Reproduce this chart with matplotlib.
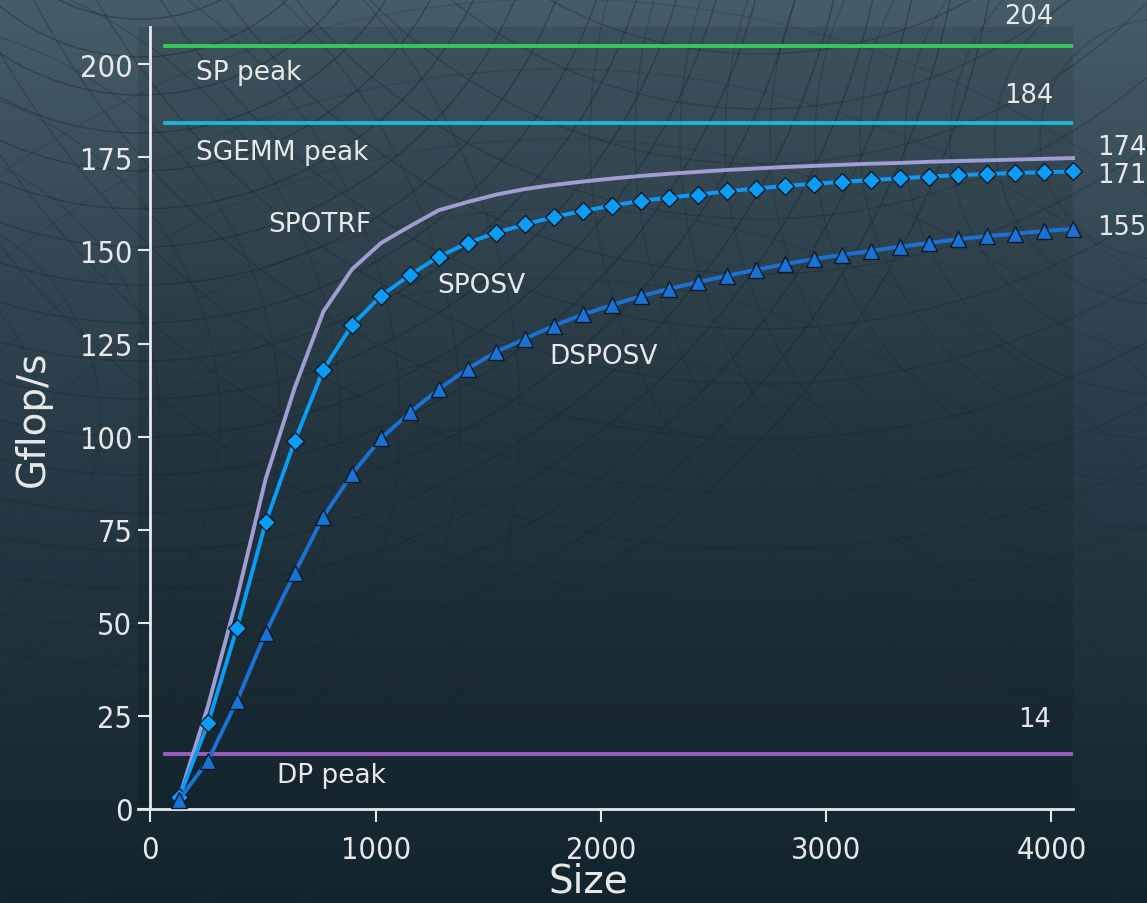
import os
import matplotlib
matplotlib.use('Agg')
import matplotlib.pyplot as plt
from matplotlib import font_manager as fm
from matplotlib.patches import Circle
import numpy as np

# ---------------- data ----------------
sizes = [128, 256, 384, 512, 640, 768, 896, 1024, 1152, 1280, 1408, 1536,
         1664, 1792, 1920, 2048, 2176, 2304, 2432, 2560, 2688, 2816, 2944,
         3072, 3200, 3328, 3456, 3584, 3712, 3840, 3968, 4096]

spotrf = [3.0, 27.7, 56.5, 88.7, 113.0, 133.6, 145.0, 152.0, 156.5, 160.8,
          163.0, 165.0, 166.5, 167.6, 168.5, 169.3, 170.0, 170.6, 171.1,
          171.6, 172.0, 172.4, 172.7, 173.0, 173.3, 173.5, 173.8, 174.0,
          174.2, 174.4, 174.6, 174.8]

sposv = [3.2, 23.0, 48.5, 77.0, 98.7, 118.0, 130.0, 137.8, 143.4, 148.3,
         152.0, 154.8, 157.0, 159.0, 160.6, 162.0, 163.3, 164.2, 165.0,
         165.9, 166.6, 167.3, 167.9, 168.4, 168.9, 169.4, 169.8, 170.2,
         170.5, 170.8, 171.0, 171.2]

dsposv = [2.5, 13.0, 29.0, 47.3, 63.3, 78.5, 90.0, 99.5, 106.5, 112.7,
          118.2, 122.8, 126.3, 129.8, 132.8, 135.3, 137.7, 139.7, 141.5,
          143.2, 144.8, 146.3, 147.7, 148.8, 149.9, 151.0, 152.0, 153.0,
          153.8, 154.5, 155.2, 155.8]

sp_peak = 204.8
sgemm_peak = 184.1
dp_peak = 14.8
peak_x = [64, 4096]

xticks = [0, 1000, 2000, 3000, 4000]
yticks = [0, 25, 50, 75, 100, 125, 150, 175, 200]

# ---------------- fonts ----------------
cond_path = None
for f in fm.fontManager.ttflist:
    base = os.path.basename(f.fname)
    if base == 'DejaVuSansCondensed.ttf':
        cond_path = f.fname
        break
if cond_path is None:
    for f in fm.fontManager.ttflist:
        if f.name.startswith('DejaVu Sans') and 'ondensed' in (f.fname + str(f.stretch)) \
                and f.weight in ('normal', 400) and f.style == 'normal':
            cond_path = f.fname
            break
if cond_path:
    tick_fp = fm.FontProperties(fname=cond_path, size=22)
else:
    tick_fp = fm.FontProperties(family='DejaVu Sans', size=20)

plt.rcParams['font.family'] = ['DejaVu Sans']
txt_col = '#e8e8e8'

W, H = 1147, 904
fig = plt.figure(figsize=(W / 100, H / 100), dpi=100)

# ---------------- background ----------------
bg = fig.add_axes([0, 0, 1, 1])
top = np.array([0x46, 0x5c, 0x68]) / 255
mid = np.array([0x2a, 0x3d, 0x48]) / 255
bot = np.array([0x13, 0x24, 0x2e]) / 255
t = np.linspace(0, 1, 256)[:, None]
grad = np.where(t < 0.45, top + (mid - top) * (t / 0.45),
                mid + (bot - mid) * ((t - 0.45) / 0.55))
grad = np.repeat(grad[:, None, :], 2, axis=1)
bg.imshow(grad, extent=[0, W, H, 0], aspect='auto')
bg.set_xlim(0, W)
bg.set_ylim(H, 0)
arc_col = '#1a2a34'
families = [((140, -160), range(180, 900, 38), 0.45),
            ((760, -380), range(380, 1000, 55), 0.35),
            ((1160, 140), range(120, 600, 45), 0.28),
            ((-120, 420), range(160, 700, 60), 0.28),
            ((560, 980), range(560, 1000, 70), 0.2)]
for (cx, cy), radii, a in families:
    for r in radii:
        bg.add_patch(Circle((cx, cy), r, fill=False, ec=arc_col, lw=1.0, alpha=a))
bg.axis('off')

# ---------------- main axes ----------------
ax = fig.add_axes([138 / W, 1 - 810 / H, (1073 - 138) / W, (810 - 28) / H])
ax.set_facecolor((0, 0, 0, 0.09))

ax.plot(peak_x, [sp_peak, sp_peak], color='#34c95a', lw=2.8, zorder=2)
ax.plot(peak_x, [sgemm_peak, sgemm_peak], color='#1fb3d6', lw=2.8, zorder=2)
ax.plot(peak_x, [dp_peak, dp_peak], color='#9a5cc0', lw=2.8, zorder=2)

ax.plot(sizes, spotrf, color='#a09cd4', lw=2.8, zorder=3, clip_on=False)
ax.plot(sizes, sposv, color='#0a9cf6', lw=2.8, marker='D', ms=9,
        mfc='#0a9cf6', mec='#0b1a26', mew=1.0, zorder=4, clip_on=False)
ax.plot(sizes, dsposv, color='#1a72d4', lw=2.8, marker='^', ms=12,
        mfc='#1a72d4', mec='#0b1a26', mew=1.0, zorder=4, clip_on=False)

fs = 19
ax.text(204, 198, 'SP peak', color=txt_col, fontsize=fs, va='center', ha='left')
ax.text(204, 176.4, 'SGEMM peak', color=txt_col, fontsize=fs, va='center', ha='left')
ax.text(524, 157.2, 'SPOTRF', color=txt_col, fontsize=fs, va='center', ha='left')
ax.text(1274, 140.7, 'SPOSV', color=txt_col, fontsize=fs, va='center', ha='left')
ax.text(1771, 121.6, 'DSPOSV', color=txt_col, fontsize=fs, va='center', ha='left')
ax.text(564, 9.0, 'DP peak', color=txt_col, fontsize=fs, va='center', ha='left')

fs2 = 18.5
ax.text(3790, 213.0, f'{int(sp_peak)}', color=txt_col, fontsize=fs2,
        va='center', ha='left', clip_on=False)
ax.text(3790, 191.8, f'{int(sgemm_peak)}', color=txt_col, fontsize=fs2,
        va='center', ha='left', clip_on=False)
ax.text(3853, 24.2, f'{int(dp_peak)}', color=txt_col, fontsize=fs2,
        va='center', ha='left', clip_on=False)
ax.text(4203, 177.8, f'{int(spotrf[-1])}', color=txt_col, fontsize=fs2,
        va='center', ha='left', clip_on=False)
ax.text(4203, 170.2, f'{int(sposv[-1])}', color=txt_col, fontsize=fs2,
        va='center', ha='left', clip_on=False)
ax.text(4203, 156.3, f'{int(dsposv[-1])}', color=txt_col, fontsize=fs2,
        va='center', ha='left', clip_on=False)

for s in ['top', 'right']:
    ax.spines[s].set_visible(False)
ax.spines['left'].set_position(('data', 0))
for s in ['left', 'bottom']:
    ax.spines[s].set_color(txt_col)
    ax.spines[s].set_linewidth(2.0)

ax.set_xlim(-55, 4096)
ax.set_ylim(0, 210)
ax.set_xticks(xticks, labels=[str(v) for v in xticks], fontproperties=tick_fp, color=txt_col)
ax.set_yticks(yticks, labels=[str(v) for v in yticks], fontproperties=tick_fp, color=txt_col)
ax.tick_params(axis='both', colors=txt_col, length=9, width=1.5, direction='out')
ax.tick_params(axis='x', pad=10)
ax.tick_params(axis='y', pad=4)

ax.set_xlabel('Size', color=txt_col, fontsize=28, va='center')
ax.xaxis.set_label_coords((588 - 138) / 935, (810 - 882) / 782)
ax.set_ylabel('Gflop/s', color=txt_col, fontsize=28, labelpad=20)

fig.savefig('out.png', dpi=100)
